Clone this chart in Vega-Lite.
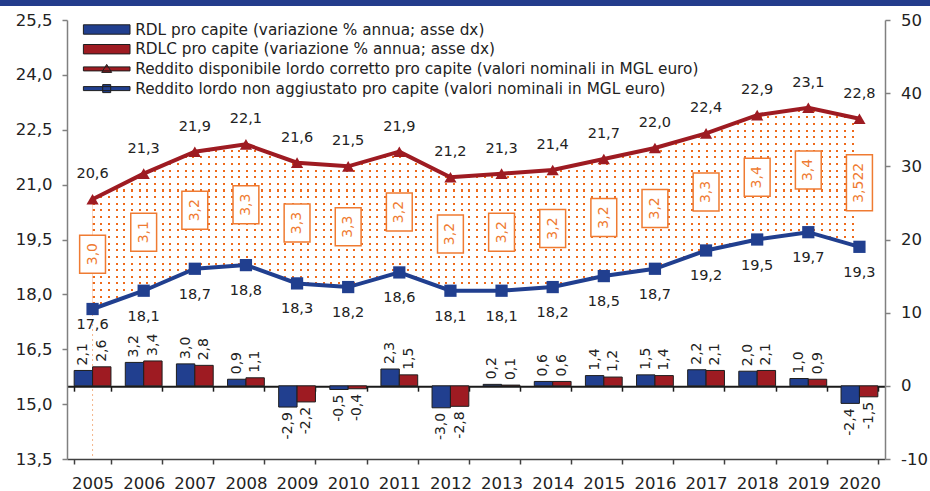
{
  "$schema": "https://vega.github.io/schema/vega-lite/v6.json",
  "width": 818,
  "height": 439,
  "autosize": {"type": "none"},
  "padding": {"left": 67, "top": 20, "right": 45, "bottom": 32},
  "background": "white",
  "config": {
    "locale": {"number": {"decimal": ",", "thousands": ".", "grouping": [3], "currency": ["€", ""], "minus": "-"}},
    "view": {"stroke": null},
    "font": "DejaVu Sans",
    "axis": {"labelFont": "DejaVu Sans", "labelFontSize": 16.5, "labelColor": "#222222", "grid": false, "title": null}
  },
  "data": {"values": [
    {"year": "2005", "rdl": 2.1, "rdlc": 2.6, "lc": 20.6, "l": 17.6, "gap": "3,0"},
    {"year": "2006", "rdl": 3.2, "rdlc": 3.4, "lc": 21.3, "l": 18.1, "gap": "3,1"},
    {"year": "2007", "rdl": 3.0, "rdlc": 2.8, "lc": 21.9, "l": 18.7, "gap": "3,2"},
    {"year": "2008", "rdl": 0.9, "rdlc": 1.1, "lc": 22.1, "l": 18.8, "gap": "3,3"},
    {"year": "2009", "rdl": -2.9, "rdlc": -2.2, "lc": 21.6, "l": 18.3, "gap": "3,3"},
    {"year": "2010", "rdl": -0.5, "rdlc": -0.4, "lc": 21.5, "l": 18.2, "gap": "3,3"},
    {"year": "2011", "rdl": 2.3, "rdlc": 1.5, "lc": 21.9, "l": 18.6, "gap": "3,2"},
    {"year": "2012", "rdl": -3.0, "rdlc": -2.8, "lc": 21.2, "l": 18.1, "gap": "3,2"},
    {"year": "2013", "rdl": 0.2, "rdlc": 0.1, "lc": 21.3, "l": 18.1, "gap": "3,2"},
    {"year": "2014", "rdl": 0.6, "rdlc": 0.6, "lc": 21.4, "l": 18.2, "gap": "3,2"},
    {"year": "2015", "rdl": 1.4, "rdlc": 1.2, "lc": 21.7, "l": 18.5, "gap": "3,2"},
    {"year": "2016", "rdl": 1.5, "rdlc": 1.4, "lc": 22.0, "l": 18.7, "gap": "3,2"},
    {"year": "2017", "rdl": 2.2, "rdlc": 2.1, "lc": 22.4, "l": 19.2, "gap": "3,3"},
    {"year": "2018", "rdl": 2.0, "rdlc": 2.1, "lc": 22.9, "l": 19.5, "gap": "3,4"},
    {"year": "2019", "rdl": 1.0, "rdlc": 0.9, "lc": 23.1, "l": 19.7, "gap": "3,4"},
    {"year": "2020", "rdl": -2.4, "rdlc": -1.5, "lc": 22.8, "l": 19.3, "gap": "3,522"}
  ]},
  "layer": [
    {
      "data": {"values": [{"band": 1}]},
      "mark": {"type": "rect", "color": "#233C8C", "clip": false},
      "encoding": {
        "x": {"datum": -67, "type": "quantitative", "scale": {"domain": [0, 818], "nice": false, "zero": false}, "axis": null},
        "x2": {"datum": 863},
        "y": {"datum": 459, "type": "quantitative", "scale": {"domain": [0, 439], "nice": false, "zero": false}, "axis": null},
        "y2": {"datum": 453}
      }
    },
    {
      "layer": [
        {
          "mark": {"type": "area", "opacity": 1, "fill": {"gradient": "linear", "x1": 0, "y1": 0, "x2": 1, "y2": 0, "stops": [
            {"offset":0,"color":"#EE6A1B"},{"offset":0.0026,"color":"#EE6A1B"},{"offset":0.0026,"color":"#fff"},{"offset":0.01,"color":"#fff"},
            {"offset":0.01,"color":"#EE6A1B"},{"offset":0.0126,"color":"#EE6A1B"},{"offset":0.0126,"color":"#fff"},{"offset":0.02,"color":"#fff"},
            {"offset":0.02,"color":"#EE6A1B"},{"offset":0.0226,"color":"#EE6A1B"},{"offset":0.0226,"color":"#fff"},{"offset":0.03,"color":"#fff"},
            {"offset":0.03,"color":"#EE6A1B"},{"offset":0.0326,"color":"#EE6A1B"},{"offset":0.0326,"color":"#fff"},{"offset":0.04,"color":"#fff"},
            {"offset":0.04,"color":"#EE6A1B"},{"offset":0.0426,"color":"#EE6A1B"},{"offset":0.0426,"color":"#fff"},{"offset":0.05,"color":"#fff"},
            {"offset":0.05,"color":"#EE6A1B"},{"offset":0.0526,"color":"#EE6A1B"},{"offset":0.0526,"color":"#fff"},{"offset":0.06,"color":"#fff"},
            {"offset":0.06,"color":"#EE6A1B"},{"offset":0.0626,"color":"#EE6A1B"},{"offset":0.0626,"color":"#fff"},{"offset":0.07,"color":"#fff"},
            {"offset":0.07,"color":"#EE6A1B"},{"offset":0.0726,"color":"#EE6A1B"},{"offset":0.0726,"color":"#fff"},{"offset":0.08,"color":"#fff"},
            {"offset":0.08,"color":"#EE6A1B"},{"offset":0.0826,"color":"#EE6A1B"},{"offset":0.0826,"color":"#fff"},{"offset":0.09,"color":"#fff"},
            {"offset":0.09,"color":"#EE6A1B"},{"offset":0.0926,"color":"#EE6A1B"},{"offset":0.0926,"color":"#fff"},{"offset":0.1,"color":"#fff"},
            {"offset":0.1,"color":"#EE6A1B"},{"offset":0.1026,"color":"#EE6A1B"},{"offset":0.1026,"color":"#fff"},{"offset":0.11,"color":"#fff"},
            {"offset":0.11,"color":"#EE6A1B"},{"offset":0.1126,"color":"#EE6A1B"},{"offset":0.1126,"color":"#fff"},{"offset":0.12,"color":"#fff"},
            {"offset":0.12,"color":"#EE6A1B"},{"offset":0.1226,"color":"#EE6A1B"},{"offset":0.1226,"color":"#fff"},{"offset":0.13,"color":"#fff"},
            {"offset":0.13,"color":"#EE6A1B"},{"offset":0.1326,"color":"#EE6A1B"},{"offset":0.1326,"color":"#fff"},{"offset":0.14,"color":"#fff"},
            {"offset":0.14,"color":"#EE6A1B"},{"offset":0.1426,"color":"#EE6A1B"},{"offset":0.1426,"color":"#fff"},{"offset":0.15,"color":"#fff"},
            {"offset":0.15,"color":"#EE6A1B"},{"offset":0.1526,"color":"#EE6A1B"},{"offset":0.1526,"color":"#fff"},{"offset":0.16,"color":"#fff"},
            {"offset":0.16,"color":"#EE6A1B"},{"offset":0.1626,"color":"#EE6A1B"},{"offset":0.1626,"color":"#fff"},{"offset":0.17,"color":"#fff"},
            {"offset":0.17,"color":"#EE6A1B"},{"offset":0.1726,"color":"#EE6A1B"},{"offset":0.1726,"color":"#fff"},{"offset":0.18,"color":"#fff"},
            {"offset":0.18,"color":"#EE6A1B"},{"offset":0.1826,"color":"#EE6A1B"},{"offset":0.1826,"color":"#fff"},{"offset":0.19,"color":"#fff"},
            {"offset":0.19,"color":"#EE6A1B"},{"offset":0.1926,"color":"#EE6A1B"},{"offset":0.1926,"color":"#fff"},{"offset":0.2,"color":"#fff"},
            {"offset":0.2,"color":"#EE6A1B"},{"offset":0.2026,"color":"#EE6A1B"},{"offset":0.2026,"color":"#fff"},{"offset":0.21,"color":"#fff"},
            {"offset":0.21,"color":"#EE6A1B"},{"offset":0.2126,"color":"#EE6A1B"},{"offset":0.2126,"color":"#fff"},{"offset":0.22,"color":"#fff"},
            {"offset":0.22,"color":"#EE6A1B"},{"offset":0.2226,"color":"#EE6A1B"},{"offset":0.2226,"color":"#fff"},{"offset":0.23,"color":"#fff"},
            {"offset":0.23,"color":"#EE6A1B"},{"offset":0.2326,"color":"#EE6A1B"},{"offset":0.2326,"color":"#fff"},{"offset":0.24,"color":"#fff"},
            {"offset":0.24,"color":"#EE6A1B"},{"offset":0.2426,"color":"#EE6A1B"},{"offset":0.2426,"color":"#fff"},{"offset":0.25,"color":"#fff"},
            {"offset":0.25,"color":"#EE6A1B"},{"offset":0.2526,"color":"#EE6A1B"},{"offset":0.2526,"color":"#fff"},{"offset":0.26,"color":"#fff"},
            {"offset":0.26,"color":"#EE6A1B"},{"offset":0.2626,"color":"#EE6A1B"},{"offset":0.2626,"color":"#fff"},{"offset":0.27,"color":"#fff"},
            {"offset":0.27,"color":"#EE6A1B"},{"offset":0.2726,"color":"#EE6A1B"},{"offset":0.2726,"color":"#fff"},{"offset":0.28,"color":"#fff"},
            {"offset":0.28,"color":"#EE6A1B"},{"offset":0.2826,"color":"#EE6A1B"},{"offset":0.2826,"color":"#fff"},{"offset":0.29,"color":"#fff"},
            {"offset":0.29,"color":"#EE6A1B"},{"offset":0.2926,"color":"#EE6A1B"},{"offset":0.2926,"color":"#fff"},{"offset":0.3,"color":"#fff"},
            {"offset":0.3,"color":"#EE6A1B"},{"offset":0.3026,"color":"#EE6A1B"},{"offset":0.3026,"color":"#fff"},{"offset":0.31,"color":"#fff"},
            {"offset":0.31,"color":"#EE6A1B"},{"offset":0.3126,"color":"#EE6A1B"},{"offset":0.3126,"color":"#fff"},{"offset":0.32,"color":"#fff"},
            {"offset":0.32,"color":"#EE6A1B"},{"offset":0.3226,"color":"#EE6A1B"},{"offset":0.3226,"color":"#fff"},{"offset":0.33,"color":"#fff"},
            {"offset":0.33,"color":"#EE6A1B"},{"offset":0.3326,"color":"#EE6A1B"},{"offset":0.3326,"color":"#fff"},{"offset":0.34,"color":"#fff"},
            {"offset":0.34,"color":"#EE6A1B"},{"offset":0.3426,"color":"#EE6A1B"},{"offset":0.3426,"color":"#fff"},{"offset":0.35,"color":"#fff"},
            {"offset":0.35,"color":"#EE6A1B"},{"offset":0.3526,"color":"#EE6A1B"},{"offset":0.3526,"color":"#fff"},{"offset":0.36,"color":"#fff"},
            {"offset":0.36,"color":"#EE6A1B"},{"offset":0.3626,"color":"#EE6A1B"},{"offset":0.3626,"color":"#fff"},{"offset":0.37,"color":"#fff"},
            {"offset":0.37,"color":"#EE6A1B"},{"offset":0.3726,"color":"#EE6A1B"},{"offset":0.3726,"color":"#fff"},{"offset":0.38,"color":"#fff"},
            {"offset":0.38,"color":"#EE6A1B"},{"offset":0.3826,"color":"#EE6A1B"},{"offset":0.3826,"color":"#fff"},{"offset":0.39,"color":"#fff"},
            {"offset":0.39,"color":"#EE6A1B"},{"offset":0.3926,"color":"#EE6A1B"},{"offset":0.3926,"color":"#fff"},{"offset":0.4,"color":"#fff"},
            {"offset":0.4,"color":"#EE6A1B"},{"offset":0.4026,"color":"#EE6A1B"},{"offset":0.4026,"color":"#fff"},{"offset":0.41,"color":"#fff"},
            {"offset":0.41,"color":"#EE6A1B"},{"offset":0.4126,"color":"#EE6A1B"},{"offset":0.4126,"color":"#fff"},{"offset":0.42,"color":"#fff"},
            {"offset":0.42,"color":"#EE6A1B"},{"offset":0.4226,"color":"#EE6A1B"},{"offset":0.4226,"color":"#fff"},{"offset":0.43,"color":"#fff"},
            {"offset":0.43,"color":"#EE6A1B"},{"offset":0.4326,"color":"#EE6A1B"},{"offset":0.4326,"color":"#fff"},{"offset":0.44,"color":"#fff"},
            {"offset":0.44,"color":"#EE6A1B"},{"offset":0.4426,"color":"#EE6A1B"},{"offset":0.4426,"color":"#fff"},{"offset":0.45,"color":"#fff"},
            {"offset":0.45,"color":"#EE6A1B"},{"offset":0.4526,"color":"#EE6A1B"},{"offset":0.4526,"color":"#fff"},{"offset":0.46,"color":"#fff"},
            {"offset":0.46,"color":"#EE6A1B"},{"offset":0.4626,"color":"#EE6A1B"},{"offset":0.4626,"color":"#fff"},{"offset":0.47,"color":"#fff"},
            {"offset":0.47,"color":"#EE6A1B"},{"offset":0.4726,"color":"#EE6A1B"},{"offset":0.4726,"color":"#fff"},{"offset":0.48,"color":"#fff"},
            {"offset":0.48,"color":"#EE6A1B"},{"offset":0.4826,"color":"#EE6A1B"},{"offset":0.4826,"color":"#fff"},{"offset":0.49,"color":"#fff"},
            {"offset":0.49,"color":"#EE6A1B"},{"offset":0.4926,"color":"#EE6A1B"},{"offset":0.4926,"color":"#fff"},{"offset":0.5,"color":"#fff"},
            {"offset":0.5,"color":"#EE6A1B"},{"offset":0.5026,"color":"#EE6A1B"},{"offset":0.5026,"color":"#fff"},{"offset":0.51,"color":"#fff"},
            {"offset":0.51,"color":"#EE6A1B"},{"offset":0.5126,"color":"#EE6A1B"},{"offset":0.5126,"color":"#fff"},{"offset":0.52,"color":"#fff"},
            {"offset":0.52,"color":"#EE6A1B"},{"offset":0.5226,"color":"#EE6A1B"},{"offset":0.5226,"color":"#fff"},{"offset":0.53,"color":"#fff"},
            {"offset":0.53,"color":"#EE6A1B"},{"offset":0.5326,"color":"#EE6A1B"},{"offset":0.5326,"color":"#fff"},{"offset":0.54,"color":"#fff"},
            {"offset":0.54,"color":"#EE6A1B"},{"offset":0.5426,"color":"#EE6A1B"},{"offset":0.5426,"color":"#fff"},{"offset":0.55,"color":"#fff"},
            {"offset":0.55,"color":"#EE6A1B"},{"offset":0.5526,"color":"#EE6A1B"},{"offset":0.5526,"color":"#fff"},{"offset":0.56,"color":"#fff"},
            {"offset":0.56,"color":"#EE6A1B"},{"offset":0.5626,"color":"#EE6A1B"},{"offset":0.5626,"color":"#fff"},{"offset":0.57,"color":"#fff"},
            {"offset":0.57,"color":"#EE6A1B"},{"offset":0.5726,"color":"#EE6A1B"},{"offset":0.5726,"color":"#fff"},{"offset":0.58,"color":"#fff"},
            {"offset":0.58,"color":"#EE6A1B"},{"offset":0.5826,"color":"#EE6A1B"},{"offset":0.5826,"color":"#fff"},{"offset":0.59,"color":"#fff"},
            {"offset":0.59,"color":"#EE6A1B"},{"offset":0.5926,"color":"#EE6A1B"},{"offset":0.5926,"color":"#fff"},{"offset":0.6,"color":"#fff"},
            {"offset":0.6,"color":"#EE6A1B"},{"offset":0.6026,"color":"#EE6A1B"},{"offset":0.6026,"color":"#fff"},{"offset":0.61,"color":"#fff"},
            {"offset":0.61,"color":"#EE6A1B"},{"offset":0.6126,"color":"#EE6A1B"},{"offset":0.6126,"color":"#fff"},{"offset":0.62,"color":"#fff"},
            {"offset":0.62,"color":"#EE6A1B"},{"offset":0.6226,"color":"#EE6A1B"},{"offset":0.6226,"color":"#fff"},{"offset":0.63,"color":"#fff"},
            {"offset":0.63,"color":"#EE6A1B"},{"offset":0.6326,"color":"#EE6A1B"},{"offset":0.6326,"color":"#fff"},{"offset":0.64,"color":"#fff"},
            {"offset":0.64,"color":"#EE6A1B"},{"offset":0.6426,"color":"#EE6A1B"},{"offset":0.6426,"color":"#fff"},{"offset":0.65,"color":"#fff"},
            {"offset":0.65,"color":"#EE6A1B"},{"offset":0.6526,"color":"#EE6A1B"},{"offset":0.6526,"color":"#fff"},{"offset":0.66,"color":"#fff"},
            {"offset":0.66,"color":"#EE6A1B"},{"offset":0.6626,"color":"#EE6A1B"},{"offset":0.6626,"color":"#fff"},{"offset":0.67,"color":"#fff"},
            {"offset":0.67,"color":"#EE6A1B"},{"offset":0.6726,"color":"#EE6A1B"},{"offset":0.6726,"color":"#fff"},{"offset":0.68,"color":"#fff"},
            {"offset":0.68,"color":"#EE6A1B"},{"offset":0.6826,"color":"#EE6A1B"},{"offset":0.6826,"color":"#fff"},{"offset":0.69,"color":"#fff"},
            {"offset":0.69,"color":"#EE6A1B"},{"offset":0.6926,"color":"#EE6A1B"},{"offset":0.6926,"color":"#fff"},{"offset":0.7,"color":"#fff"},
            {"offset":0.7,"color":"#EE6A1B"},{"offset":0.7026,"color":"#EE6A1B"},{"offset":0.7026,"color":"#fff"},{"offset":0.71,"color":"#fff"},
            {"offset":0.71,"color":"#EE6A1B"},{"offset":0.7126,"color":"#EE6A1B"},{"offset":0.7126,"color":"#fff"},{"offset":0.72,"color":"#fff"},
            {"offset":0.72,"color":"#EE6A1B"},{"offset":0.7226,"color":"#EE6A1B"},{"offset":0.7226,"color":"#fff"},{"offset":0.73,"color":"#fff"},
            {"offset":0.73,"color":"#EE6A1B"},{"offset":0.7326,"color":"#EE6A1B"},{"offset":0.7326,"color":"#fff"},{"offset":0.74,"color":"#fff"},
            {"offset":0.74,"color":"#EE6A1B"},{"offset":0.7426,"color":"#EE6A1B"},{"offset":0.7426,"color":"#fff"},{"offset":0.75,"color":"#fff"},
            {"offset":0.75,"color":"#EE6A1B"},{"offset":0.7526,"color":"#EE6A1B"},{"offset":0.7526,"color":"#fff"},{"offset":0.76,"color":"#fff"},
            {"offset":0.76,"color":"#EE6A1B"},{"offset":0.7626,"color":"#EE6A1B"},{"offset":0.7626,"color":"#fff"},{"offset":0.77,"color":"#fff"},
            {"offset":0.77,"color":"#EE6A1B"},{"offset":0.7726,"color":"#EE6A1B"},{"offset":0.7726,"color":"#fff"},{"offset":0.78,"color":"#fff"},
            {"offset":0.78,"color":"#EE6A1B"},{"offset":0.7826,"color":"#EE6A1B"},{"offset":0.7826,"color":"#fff"},{"offset":0.79,"color":"#fff"},
            {"offset":0.79,"color":"#EE6A1B"},{"offset":0.7926,"color":"#EE6A1B"},{"offset":0.7926,"color":"#fff"},{"offset":0.8,"color":"#fff"},
            {"offset":0.8,"color":"#EE6A1B"},{"offset":0.8026,"color":"#EE6A1B"},{"offset":0.8026,"color":"#fff"},{"offset":0.81,"color":"#fff"},
            {"offset":0.81,"color":"#EE6A1B"},{"offset":0.8126,"color":"#EE6A1B"},{"offset":0.8126,"color":"#fff"},{"offset":0.82,"color":"#fff"},
            {"offset":0.82,"color":"#EE6A1B"},{"offset":0.8226,"color":"#EE6A1B"},{"offset":0.8226,"color":"#fff"},{"offset":0.83,"color":"#fff"},
            {"offset":0.83,"color":"#EE6A1B"},{"offset":0.8326,"color":"#EE6A1B"},{"offset":0.8326,"color":"#fff"},{"offset":0.84,"color":"#fff"},
            {"offset":0.84,"color":"#EE6A1B"},{"offset":0.8426,"color":"#EE6A1B"},{"offset":0.8426,"color":"#fff"},{"offset":0.85,"color":"#fff"},
            {"offset":0.85,"color":"#EE6A1B"},{"offset":0.8526,"color":"#EE6A1B"},{"offset":0.8526,"color":"#fff"},{"offset":0.86,"color":"#fff"},
            {"offset":0.86,"color":"#EE6A1B"},{"offset":0.8626,"color":"#EE6A1B"},{"offset":0.8626,"color":"#fff"},{"offset":0.87,"color":"#fff"},
            {"offset":0.87,"color":"#EE6A1B"},{"offset":0.8726,"color":"#EE6A1B"},{"offset":0.8726,"color":"#fff"},{"offset":0.88,"color":"#fff"},
            {"offset":0.88,"color":"#EE6A1B"},{"offset":0.8826,"color":"#EE6A1B"},{"offset":0.8826,"color":"#fff"},{"offset":0.89,"color":"#fff"},
            {"offset":0.89,"color":"#EE6A1B"},{"offset":0.8926,"color":"#EE6A1B"},{"offset":0.8926,"color":"#fff"},{"offset":0.9,"color":"#fff"},
            {"offset":0.9,"color":"#EE6A1B"},{"offset":0.9026,"color":"#EE6A1B"},{"offset":0.9026,"color":"#fff"},{"offset":0.91,"color":"#fff"},
            {"offset":0.91,"color":"#EE6A1B"},{"offset":0.9126,"color":"#EE6A1B"},{"offset":0.9126,"color":"#fff"},{"offset":0.92,"color":"#fff"},
            {"offset":0.92,"color":"#EE6A1B"},{"offset":0.9226,"color":"#EE6A1B"},{"offset":0.9226,"color":"#fff"},{"offset":0.93,"color":"#fff"},
            {"offset":0.93,"color":"#EE6A1B"},{"offset":0.9326,"color":"#EE6A1B"},{"offset":0.9326,"color":"#fff"},{"offset":0.94,"color":"#fff"},
            {"offset":0.94,"color":"#EE6A1B"},{"offset":0.9426,"color":"#EE6A1B"},{"offset":0.9426,"color":"#fff"},{"offset":0.95,"color":"#fff"},
            {"offset":0.95,"color":"#EE6A1B"},{"offset":0.9526,"color":"#EE6A1B"},{"offset":0.9526,"color":"#fff"},{"offset":0.96,"color":"#fff"},
            {"offset":0.96,"color":"#EE6A1B"},{"offset":0.9626,"color":"#EE6A1B"},{"offset":0.9626,"color":"#fff"},{"offset":0.97,"color":"#fff"},
            {"offset":0.97,"color":"#EE6A1B"},{"offset":0.9726,"color":"#EE6A1B"},{"offset":0.9726,"color":"#fff"},{"offset":0.98,"color":"#fff"},
            {"offset":0.98,"color":"#EE6A1B"},{"offset":0.9826,"color":"#EE6A1B"},{"offset":0.9826,"color":"#fff"},{"offset":0.99,"color":"#fff"},
            {"offset":0.99,"color":"#EE6A1B"},{"offset":0.9926,"color":"#EE6A1B"},{"offset":0.9926,"color":"#fff"},{"offset":1,"color":"#fff"}
          ]}},
          "encoding": {
            "x": {"field": "year", "type": "nominal", "scale": {"type": "band", "paddingInner": 0.28, "paddingOuter": 0.14},
              "axis": {"orient": "bottom", "tickBand": "extent", "labelAngle": 0, "labelPadding": 11, "domainColor": "#404040", "domainWidth": 1.5, "tickColor": "#404040", "tickWidth": 1.5, "tickSize": 5, "title": null}},
            "y": {"field": "l", "type": "quantitative", "scale": {"domain": [13.5, 25.5], "nice": false, "zero": false},
              "axis": {"orient": "left", "values": [13.5, 15, 16.5, 18, 19.5, 21, 22.5, 24, 25.5], "format": ".1f", "labelPadding": 10, "domainColor": "#808080", "domainWidth": 1.5, "tickColor": "#808080", "tickWidth": 1.5, "tickSize": 5, "title": null}},
            "y2": {"field": "lc"}
          }
        },
        {
          "mark": {"type": "area", "opacity": 1, "fill": {"gradient": "linear", "x1": 0, "y1": 0, "x2": 0, "y2": 1, "stops": [
            {"offset":0,"color":"#fff"},
            {"offset":0.01,"color":"#fff"},{"offset":0.01,"color":"rgba(255,255,255,0)"},{"offset":0.02,"color":"rgba(255,255,255,0)"},{"offset":0.02,"color":"#fff"},
            {"offset":0.043,"color":"#fff"},{"offset":0.043,"color":"rgba(255,255,255,0)"},{"offset":0.053,"color":"rgba(255,255,255,0)"},{"offset":0.053,"color":"#fff"},
            {"offset":0.076,"color":"#fff"},{"offset":0.076,"color":"rgba(255,255,255,0)"},{"offset":0.086,"color":"rgba(255,255,255,0)"},{"offset":0.086,"color":"#fff"},
            {"offset":0.109,"color":"#fff"},{"offset":0.109,"color":"rgba(255,255,255,0)"},{"offset":0.119,"color":"rgba(255,255,255,0)"},{"offset":0.119,"color":"#fff"},
            {"offset":0.142,"color":"#fff"},{"offset":0.142,"color":"rgba(255,255,255,0)"},{"offset":0.152,"color":"rgba(255,255,255,0)"},{"offset":0.152,"color":"#fff"},
            {"offset":0.175,"color":"#fff"},{"offset":0.175,"color":"rgba(255,255,255,0)"},{"offset":0.185,"color":"rgba(255,255,255,0)"},{"offset":0.185,"color":"#fff"},
            {"offset":0.208,"color":"#fff"},{"offset":0.208,"color":"rgba(255,255,255,0)"},{"offset":0.218,"color":"rgba(255,255,255,0)"},{"offset":0.218,"color":"#fff"},
            {"offset":0.241,"color":"#fff"},{"offset":0.241,"color":"rgba(255,255,255,0)"},{"offset":0.251,"color":"rgba(255,255,255,0)"},{"offset":0.251,"color":"#fff"},
            {"offset":0.274,"color":"#fff"},{"offset":0.274,"color":"rgba(255,255,255,0)"},{"offset":0.284,"color":"rgba(255,255,255,0)"},{"offset":0.284,"color":"#fff"},
            {"offset":0.307,"color":"#fff"},{"offset":0.307,"color":"rgba(255,255,255,0)"},{"offset":0.317,"color":"rgba(255,255,255,0)"},{"offset":0.317,"color":"#fff"},
            {"offset":0.34,"color":"#fff"},{"offset":0.34,"color":"rgba(255,255,255,0)"},{"offset":0.35,"color":"rgba(255,255,255,0)"},{"offset":0.35,"color":"#fff"},
            {"offset":0.373,"color":"#fff"},{"offset":0.373,"color":"rgba(255,255,255,0)"},{"offset":0.383,"color":"rgba(255,255,255,0)"},{"offset":0.383,"color":"#fff"},
            {"offset":0.406,"color":"#fff"},{"offset":0.406,"color":"rgba(255,255,255,0)"},{"offset":0.416,"color":"rgba(255,255,255,0)"},{"offset":0.416,"color":"#fff"},
            {"offset":0.439,"color":"#fff"},{"offset":0.439,"color":"rgba(255,255,255,0)"},{"offset":0.449,"color":"rgba(255,255,255,0)"},{"offset":0.449,"color":"#fff"},
            {"offset":0.472,"color":"#fff"},{"offset":0.472,"color":"rgba(255,255,255,0)"},{"offset":0.482,"color":"rgba(255,255,255,0)"},{"offset":0.482,"color":"#fff"},
            {"offset":0.505,"color":"#fff"},{"offset":0.505,"color":"rgba(255,255,255,0)"},{"offset":0.515,"color":"rgba(255,255,255,0)"},{"offset":0.515,"color":"#fff"},
            {"offset":0.538,"color":"#fff"},{"offset":0.538,"color":"rgba(255,255,255,0)"},{"offset":0.548,"color":"rgba(255,255,255,0)"},{"offset":0.548,"color":"#fff"},
            {"offset":0.571,"color":"#fff"},{"offset":0.571,"color":"rgba(255,255,255,0)"},{"offset":0.581,"color":"rgba(255,255,255,0)"},{"offset":0.581,"color":"#fff"},
            {"offset":0.604,"color":"#fff"},{"offset":0.604,"color":"rgba(255,255,255,0)"},{"offset":0.614,"color":"rgba(255,255,255,0)"},{"offset":0.614,"color":"#fff"},
            {"offset":0.637,"color":"#fff"},{"offset":0.637,"color":"rgba(255,255,255,0)"},{"offset":0.647,"color":"rgba(255,255,255,0)"},{"offset":0.647,"color":"#fff"},
            {"offset":0.67,"color":"#fff"},{"offset":0.67,"color":"rgba(255,255,255,0)"},{"offset":0.68,"color":"rgba(255,255,255,0)"},{"offset":0.68,"color":"#fff"},
            {"offset":0.703,"color":"#fff"},{"offset":0.703,"color":"rgba(255,255,255,0)"},{"offset":0.713,"color":"rgba(255,255,255,0)"},{"offset":0.713,"color":"#fff"},
            {"offset":0.736,"color":"#fff"},{"offset":0.736,"color":"rgba(255,255,255,0)"},{"offset":0.746,"color":"rgba(255,255,255,0)"},{"offset":0.746,"color":"#fff"},
            {"offset":0.769,"color":"#fff"},{"offset":0.769,"color":"rgba(255,255,255,0)"},{"offset":0.779,"color":"rgba(255,255,255,0)"},{"offset":0.779,"color":"#fff"},
            {"offset":0.802,"color":"#fff"},{"offset":0.802,"color":"rgba(255,255,255,0)"},{"offset":0.812,"color":"rgba(255,255,255,0)"},{"offset":0.812,"color":"#fff"},
            {"offset":0.835,"color":"#fff"},{"offset":0.835,"color":"rgba(255,255,255,0)"},{"offset":0.845,"color":"rgba(255,255,255,0)"},{"offset":0.845,"color":"#fff"},
            {"offset":0.868,"color":"#fff"},{"offset":0.868,"color":"rgba(255,255,255,0)"},{"offset":0.878,"color":"rgba(255,255,255,0)"},{"offset":0.878,"color":"#fff"},
            {"offset":0.901,"color":"#fff"},{"offset":0.901,"color":"rgba(255,255,255,0)"},{"offset":0.911,"color":"rgba(255,255,255,0)"},{"offset":0.911,"color":"#fff"},
            {"offset":0.934,"color":"#fff"},{"offset":0.934,"color":"rgba(255,255,255,0)"},{"offset":0.944,"color":"rgba(255,255,255,0)"},{"offset":0.944,"color":"#fff"},
            {"offset":0.967,"color":"#fff"},{"offset":0.967,"color":"rgba(255,255,255,0)"},{"offset":0.977,"color":"rgba(255,255,255,0)"},{"offset":0.977,"color":"#fff"},
            {"offset":1,"color":"#fff"}
          ]}},
          "encoding": {
            "x": {"field": "year", "type": "nominal"},
            "y": {"field": "l", "type": "quantitative"},
            "y2": {"field": "lc"}
          }
        },
        {
          "transform": [{"filter": "datum.year == '2005'"}],
          "mark": {"type": "rule", "color": "#F5B58A", "strokeDash": [2, 3], "strokeWidth": 1},
          "encoding": {
            "x": {"field": "year", "type": "nominal"},
            "y": {"field": "l", "type": "quantitative"},
            "y2": {"datum": 13.5}
          }
        },
        {
          "mark": {"type": "line", "color": "#9E1B22", "strokeWidth": 4},
          "encoding": {"x": {"field": "year", "type": "nominal"}, "y": {"field": "lc", "type": "quantitative"}}
        },
        {
          "mark": {"type": "line", "color": "#213F8F", "strokeWidth": 4},
          "encoding": {"x": {"field": "year", "type": "nominal"}, "y": {"field": "l", "type": "quantitative"}}
        },
        {
          "mark": {"type": "point", "shape": "triangle-up", "size": 150, "filled": true, "opacity": 1, "color": "#9E1B22"},
          "encoding": {"x": {"field": "year", "type": "nominal"}, "y": {"field": "lc", "type": "quantitative"}}
        },
        {
          "mark": {"type": "point", "shape": "square", "size": 150, "filled": true, "opacity": 1, "color": "#213F8F"},
          "encoding": {"x": {"field": "year", "type": "nominal"}, "y": {"field": "l", "type": "quantitative"}}
        },
        {
          "mark": {"type": "text", "dy": -25, "fontSize": 14.5, "color": "#222222", "font": "DejaVu Sans"},
          "encoding": {"x": {"field": "year", "type": "nominal"}, "y": {"field": "lc", "type": "quantitative"}, "text": {"field": "lc", "type": "quantitative", "format": ".1f"}}
        },
        {
          "transform": [{"filter": "datum.year != '2005'"}],
          "mark": {"type": "text", "dy": 26, "fontSize": 14.5, "color": "#222222", "font": "DejaVu Sans"},
          "encoding": {"x": {"field": "year", "type": "nominal"}, "y": {"field": "l", "type": "quantitative"}, "text": {"field": "l", "type": "quantitative", "format": ".1f"}}
        },
        {
          "transform": [{"filter": "datum.year == '2005'"}],
          "mark": {"type": "text", "dy": 16, "fontSize": 14.5, "color": "#222222", "font": "DejaVu Sans"},
          "encoding": {"x": {"field": "year", "type": "nominal"}, "y": {"field": "l", "type": "quantitative"}, "text": {"field": "l", "type": "quantitative", "format": ".1f"}}
        },
        {
          "transform": [{"fold": ["l", "lc"], "as": ["k", "val"]}],
          "mark": {"type": "point", "filled": true, "fill": "white", "stroke": "#EF7B32", "strokeWidth": 1.5, "opacity": 1},
          "encoding": {
            "x": {"field": "year", "type": "nominal"},
            "y": {"field": "val", "aggregate": "mean", "type": "quantitative"},
            "detail": {"field": "gap", "type": "nominal"},
            "shape": {"condition": {"test": "datum.year == '2020'", "value": "M-0.464,-1H0.464V1H-0.464Z"}, "value": "M-0.68,-1H0.68V1H-0.68Z"},
            "size": {"condition": {"test": "datum.year == '2020'", "value": 3136}, "value": 1444}
          }
        },
        {
          "transform": [{"fold": ["l", "lc"], "as": ["k", "val"]}],
          "mark": {"type": "text", "angle": 270, "fontSize": 14, "color": "#EF7B32", "align": "center", "baseline": "middle", "font": "DejaVu Sans"},
          "encoding": {
            "x": {"field": "year", "type": "nominal"},
            "y": {"field": "val", "aggregate": "mean", "type": "quantitative"},
            "text": {"field": "gap", "type": "nominal"}
          }
        }
      ]
    },
    {
      "transform": [{"fold": ["rdl", "rdlc"], "as": ["serie", "v"]}],
      "layer": [
        {
          "mark": {"type": "bar", "stroke": "#1E1E1E", "strokeWidth": 1},
          "encoding": {
            "x": {"field": "year", "type": "nominal", "scale": {"type": "band", "paddingInner": 0.28, "paddingOuter": 0.14},
              "axis": {"orient": "bottom", "offset": -72.83, "labels": false, "tickBand": "extent", "domainColor": "#1A1A1A", "domainWidth": 2, "tickColor": "#1A1A1A", "tickWidth": 1.5, "tickSize": 5, "title": null}},
            "xOffset": {"field": "serie", "type": "nominal", "scale": {"domain": ["rdl", "rdlc"]}},
            "y": {"field": "v", "type": "quantitative", "scale": {"domain": [-10, 50], "nice": false},
              "axis": {"orient": "right", "values": [-10, 0, 10, 20, 30, 40, 50], "labelPadding": 10.5, "domainColor": "#808080", "domainWidth": 1.5, "tickColor": "#808080", "tickWidth": 1.5, "tickSize": 5, "title": null}},
            "color": {"field": "serie", "type": "nominal",
              "scale": {"domain": ["rdl", "rdlc", "lc", "l"], "range": ["#213F8F", "#9E1B22", "#9E1B22", "#213F8F"]},
              "legend": {
                "orient": "none", "legendX": 29.2, "legendY": -1, "title": null, "padding": 0,
                "symbolSize": 400, "symbolStrokeWidth": 1, "rowPadding": 0.7,
                "labelFont": "DejaVu Sans", "labelFontSize": 15.3, "labelColor": "#222222", "labelOffset": 18, "labelLimit": 900,
                "labelExpr": "datum.value == 'rdl' ? 'RDL pro capite (variazione % annua; asse dx)' : datum.value == 'rdlc' ? 'RDLC pro capite (variazione % annua; asse dx)' : datum.value == 'lc' ? 'Reddito disponibile lordo corretto pro capite (valori nominali in MGL euro)' : 'Reddito lordo non aggiustato pro capite (valori nominali in MGL euro)'",
                "encode": {"symbols": {
                  "stroke": {"condition": {"test": "datum.value == 'rdl' || datum.value == 'rdlc'", "value": "#1E1E1E"}, "value": "transparent"}
                }}
              }
            }
          }
        },
        {
          "transform": [{"filter": "false"}],
          "mark": {"type": "point", "filled": true, "opacity": 1},
          "encoding": {
            "x": {"field": "year", "type": "nominal"},
            "y": {"field": "v", "type": "quantitative"},
            "color": {"field": "serie", "type": "nominal"},
            "shape": {"field": "serie", "type": "nominal",
              "scale": {"domain": ["rdl", "rdlc", "lc", "l"], "range": [
                "M-2.33,-0.47H2.33V0.47H-2.33Z",
                "M-2.33,-0.47H2.33V0.47H-2.33Z",
                "M-2.33,-0.2H2.33V0.2H-2.33Z M-0.5,0.35L0,-0.45L0.5,0.35Z",
                "M-2.33,-0.2H2.33V0.2H-2.33Z M-0.4,-0.4H0.4V0.4H-0.4Z"
              ]},
              "legend": {
                "orient": "none", "legendX": 29.2, "legendY": -1, "title": null, "padding": 0,
                "symbolSize": 400, "symbolStrokeWidth": 1, "rowPadding": 0.7,
                "labelFont": "DejaVu Sans", "labelFontSize": 15.3, "labelColor": "#222222", "labelOffset": 18, "labelLimit": 900,
                "labelExpr": "datum.value == 'rdl' ? 'RDL pro capite (variazione % annua; asse dx)' : datum.value == 'rdlc' ? 'RDLC pro capite (variazione % annua; asse dx)' : datum.value == 'lc' ? 'Reddito disponibile lordo corretto pro capite (valori nominali in MGL euro)' : 'Reddito lordo non aggiustato pro capite (valori nominali in MGL euro)'"
              }
            }
          }
        },
        {
          "transform": [{"filter": "datum.v >= 0"}],
          "mark": {"type": "text", "angle": 270, "align": "left", "baseline": "middle", "dx": 5, "fontSize": 14, "color": "#222222", "font": "DejaVu Sans"},
          "encoding": {
            "x": {"field": "year", "type": "nominal"},
            "xOffset": {"field": "serie", "type": "nominal", "scale": {"domain": ["rdl", "rdlc"]}},
            "y": {"field": "v", "type": "quantitative"},
            "text": {"field": "v", "type": "quantitative", "format": ".1f"}
          }
        },
        {
          "transform": [{"filter": "datum.v < 0"}],
          "mark": {"type": "text", "angle": 270, "align": "right", "baseline": "middle", "dx": -5, "fontSize": 14, "color": "#222222", "font": "DejaVu Sans"},
          "encoding": {
            "x": {"field": "year", "type": "nominal"},
            "xOffset": {"field": "serie", "type": "nominal", "scale": {"domain": ["rdl", "rdlc"]}},
            "y": {"field": "v", "type": "quantitative"},
            "text": {"field": "v", "type": "quantitative", "format": ".1f"}
          }
        }
      ]
    }
  ],
  "resolve": {"scale": {"x": "independent", "y": "independent"}}
}
